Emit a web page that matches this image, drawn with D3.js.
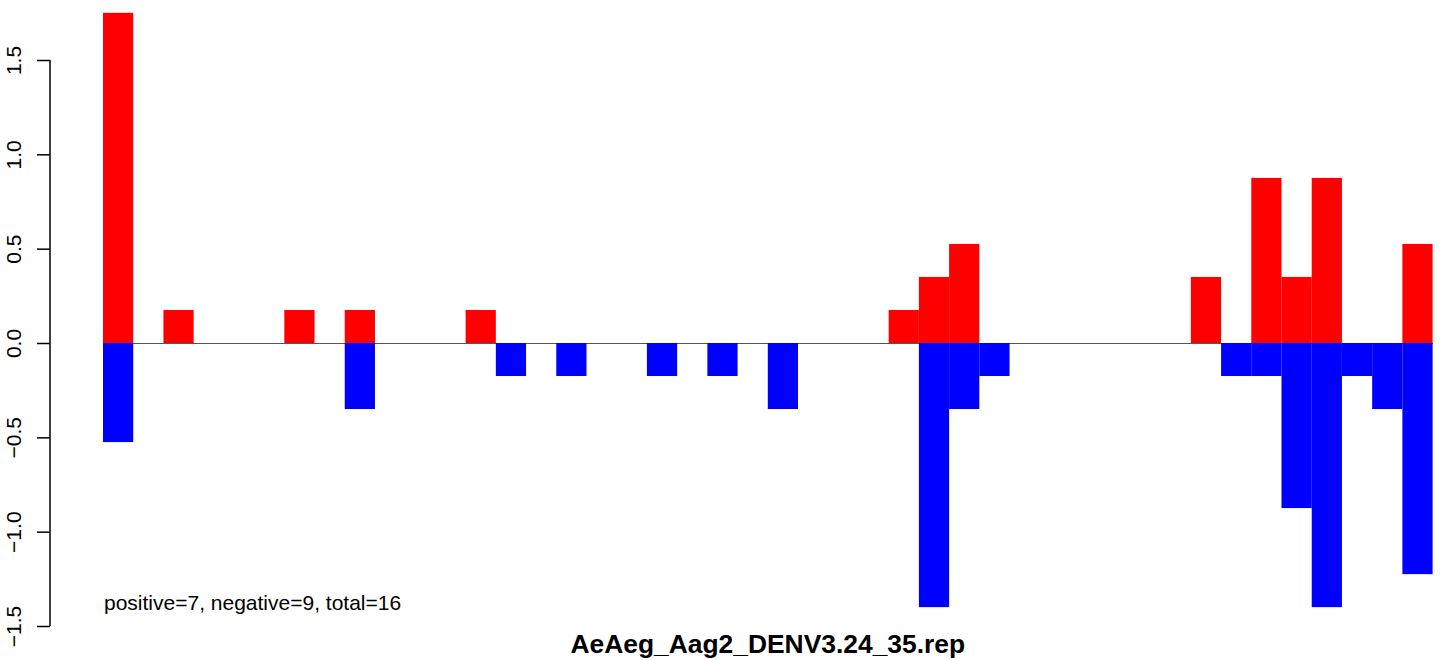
<!DOCTYPE html>
<meta charset="utf-8">
<style>
    body { margin: 0; background: #fff; }
    svg text { font-family: "Liberation Sans", Arial, sans-serif; fill: #000; }
    .axis path, .axis line { fill: none; stroke: #000; stroke-width: 1.5; }
</style>
<svg class="chart"></svg>
<script src="https://d3js.org/d3.v7.min.js"></script>
<script>

    // one slot per position, 44 positions
    const positions = d3.range(44);
    const posValues = [
        1.75, 0, 0.175, 0, 0, 0, 0.175, 0, 0.175, 0,
        0, 0, 0.175, 0, 0, 0, 0, 0, 0, 0,
        0, 0, 0, 0, 0, 0, 0.175, 0.35, 0.525, 0,
        0, 0, 0, 0, 0, 0, 0.35, 0, 0.875, 0.35,
        0.875, 0, 0, 0.525
    ];
    const negValues = [
        -0.525, 0, 0, 0, 0, 0, 0, 0, -0.35, 0,
        0, 0, 0, -0.175, 0, -0.175, 0, 0, -0.175, 0,
        -0.175, 0, -0.35, 0, 0, 0, 0, -1.4, -0.35, -0.175,
        0, 0, 0, 0, 0, 0, 0, -0.175, -0.175, -0.875,
        -1.4, -0.175, -0.35, -1.225
    ];
    const yTicks = [-1.5, -1.0, -0.5, 0.0, 0.5, 1.0, 1.5];
    const title = "AeAeg_Aag2_DENV3.24_35.rep";
    const note = "positive=7, negative=9, total=16";

    const width = 1441, height = 660;

    const x = d3.scaleBand()
        .domain(positions)
        .range([103, 1432.6])
        .padding(0);

    const y = d3.scaleLinear()
        .domain([-1.5, 1.5])
        .range([626, 60]);

    const svg = d3.select(".chart")
        .attr("width", width)
        .attr("height", height);

    // zero line under the bars
    svg.append("line")
        .attr("x1", x.range()[0])
        .attr("x2", x.range()[1])
        .attr("y1", y(0) + 0.5)
        .attr("y2", y(0) + 0.5)
        .attr("stroke", "#555")
        .attr("stroke-width", 1)
        .style("shape-rendering", "crispEdges");

    svg.append("g").selectAll("rect")
        .data(positions.filter(i => posValues[i] > 0))
        .join("rect")
        .attr("x", i => x(i))
        .attr("width", x.bandwidth())
        .attr("y", i => y(posValues[i]))
        .attr("height", i => y(0) - y(posValues[i]))
        .attr("fill", "#ff0000");

    svg.append("g").selectAll("rect")
        .data(positions.filter(i => negValues[i] < 0))
        .join("rect")
        .attr("x", i => x(i))
        .attr("width", x.bandwidth())
        .attr("y", y(0))
        .attr("height", i => y(negValues[i]) - y(0))
        .attr("fill", "#0000ff");

    const yAxis = d3.axisLeft(y)
        .tickValues(yTicks)
        .tickFormat(d => d3.format(".1f")(d).replace("-", "\u2212"))
        .tickSize(13)
        .tickPadding(0)
        .tickSizeOuter(0);

    const gy = svg.append("g")
        .attr("class", "axis")
        .attr("transform", "translate(50,0)")
        .call(yAxis);

    gy.select(".domain").attr("d", `M0,${y(-1.5)}V${y(1.5)}`);

    gy.selectAll(".tick text")
        .attr("x", 0)
        .attr("y", 0)
        .attr("dy", 0)
        .attr("text-anchor", "middle")
        .attr("transform", "translate(-29,0) rotate(-90)")
        .style("font-size", "21px");

    svg.append("text")
        .attr("x", 104)
        .attr("y", 610)
        .style("font-size", "21px")
        .text(note);

    svg.append("text")
        .attr("x", (x.range()[0] + x.range()[1]) / 2)
        .attr("y", 653)
        .attr("text-anchor", "middle")
        .style("font-size", "26.4px")
        .style("font-weight", "bold")
        .text(title);

</script>
